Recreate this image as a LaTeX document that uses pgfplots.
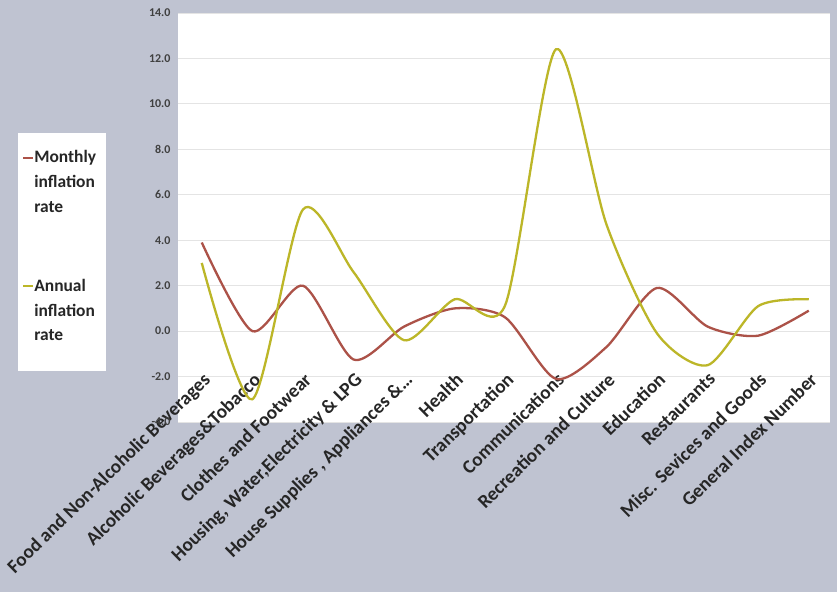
\documentclass[border=0pt]{standalone}
\usepackage{fontspec}
\setmainfont{Carlito}
\usepackage{pgfplots}
\pgfplotsset{compat=1.18}

\definecolor{bgblue}{RGB}{191,195,209}
\definecolor{monthly}{RGB}{172,82,72}
\definecolor{annual}{RGB}{188,182,40}
\definecolor{gridc}{RGB}{228,228,228}

\begin{document}
\begin{tikzpicture}
\useasboundingbox (0,0) rectangle (837bp,592bp);
\fill[bgblue] (0,0) rectangle (837bp,592bp);
\begin{axis}[
  at={(178bp,170bp)}, anchor=south west,
  scale only axis, width=652bp, height=409bp,
  axis background/.style={fill=white},
  axis line style={draw=none},
  tick style={draw=none},
  xmin=-0.47, xmax=12.42,
  ymin=-4, ymax=14,
  ytick={-4,-2,...,14},
  ymajorgrids, major grid style={gridc, line width=0.9pt},
  yticklabel style={font=\fontsize{12}{13}\selectfont\bfseries, text=black!75, xshift=-4bp},
  /pgf/number format/assume math mode=true,
  yticklabel={\pgfmathprintnumber[fixed, fixed zerofill, precision=1]{\tick}},
  xtick={0,...,12},
  xticklabels={Food and Non-Alcoholic Beverages, Alcoholic Beverages\&Tobacco, Clothes and Footwear, {Housing, Water,Electricity \& LPG}, {House Supplies , Appliances \&\ldots}, Health, Transportation, Communications, Recreation and Culture, Education, Restaurants, Misc. Sevices and Goods, General Index Number},
  xticklabel style={font=\fontsize{19.3}{21}\selectfont\bfseries, text=black!85, rotate=44.5, anchor=north east, inner sep=1bp},
  xticklabel shift=-52bp,
  legend style={at={(-0.2454,0.7066)}, anchor=north west, draw=none, fill=white,
    inner xsep=4bp, inner ysep=12bp, row sep=43bp,
    font=\fontsize{17.5}{25}\selectfont\bfseries, text=black!85,
    nodes={inner sep=0pt},
    /tikz/every even column/.append style={column sep=5bp}},
  legend cell align=left,
  legend image code/.code={\draw[#1, line width=2bp] (0bp,22bp) -- (10bp,22bp); \path (0bp,-50bp);},
]
\addplot[monthly, line width=2.3bp, smooth, tension=0.45] coordinates {
  (0,3.9) (1,0.0) (2,2.0) (3,-1.25) (4,0.2) (5,1.0) (6,0.6)
  (7,-2.1) (8,-0.7) (9,1.9) (10,0.2) (11,-0.2) (12,0.9)};
\addlegendentry{\begin{tabular}[b]{@{}l@{\hspace{6bp}}}Monthly\\inflation\\rate\end{tabular}}
\addplot[annual, line width=2.3bp, smooth, tension=0.45] coordinates {
  (0,3.0) (1,-3.0) (2,5.35) (3,2.6) (4,-0.4) (5,1.4) (6,1.15)
  (7,12.4) (8,4.7) (9,-0.1) (10,-1.5) (11,1.1) (12,1.4)};
\addlegendentry{\begin{tabular}[b]{@{}l@{\hspace{6bp}}}Annual\\inflation\\rate\end{tabular}}
\end{axis}
\end{tikzpicture}
\end{document}
